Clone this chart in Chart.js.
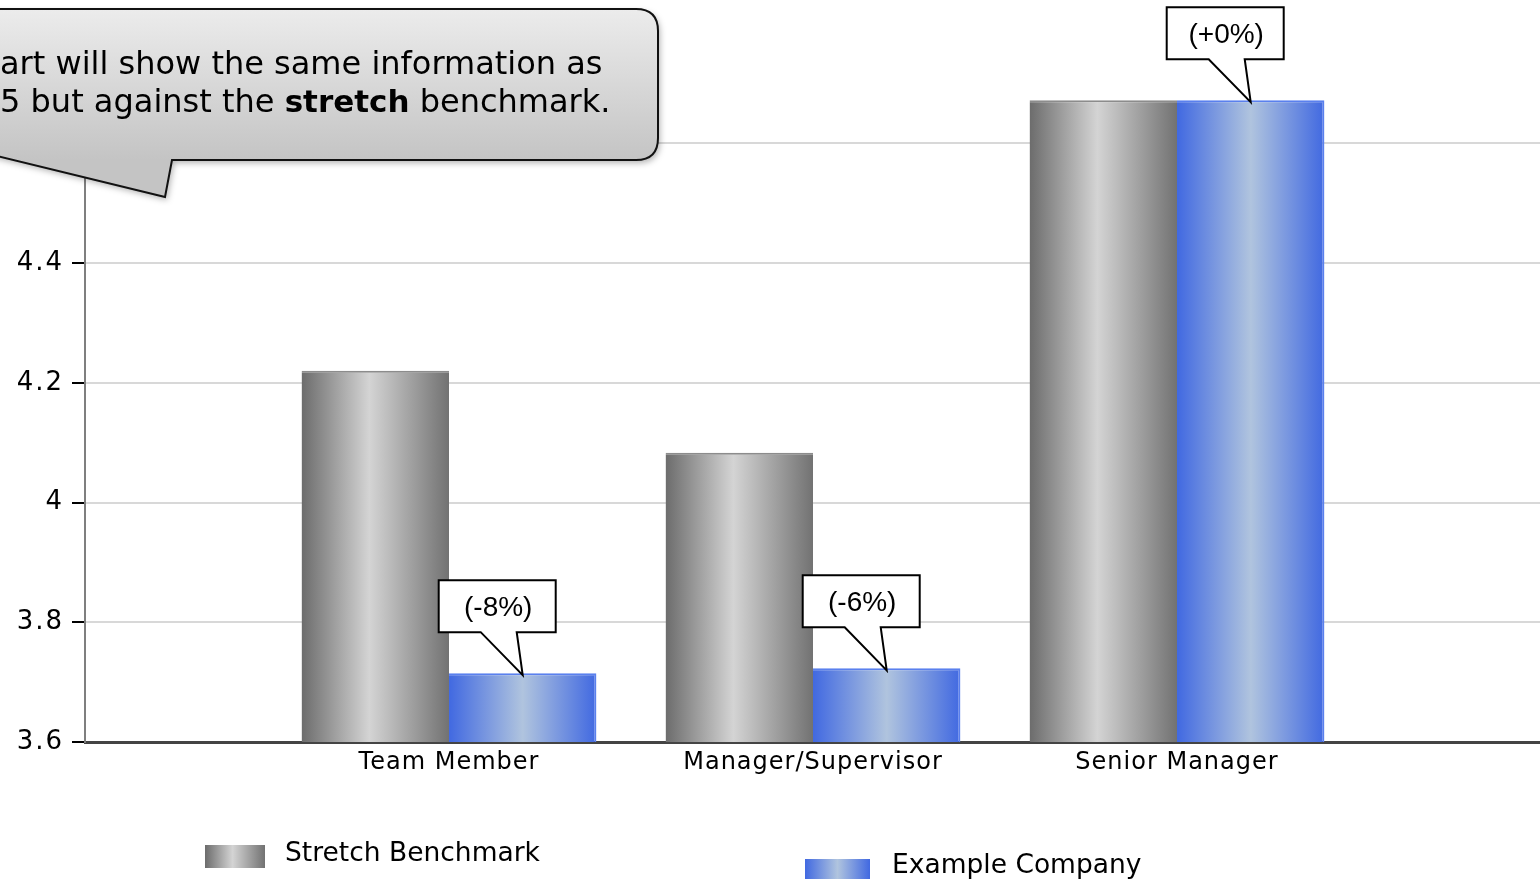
<!DOCTYPE html>
<html>
<head>
<meta charset="utf-8">
<script src="https://cdn.jsdelivr.net/npm/chart.js@4.4.0/dist/chart.umd.min.js"></script>
<style>
html, body { margin: 0; padding: 0; background: #fff; overflow: hidden; }
#wrap { position: relative; width: 1547px; height: 879px; }
</style>
</head>
<body>
<div id="wrap"><canvas id="chart"></canvas></div>
<script>
// data
const categories = ['Team Member', 'Manager/Supervisor', 'Senior Manager'];
const stretchValues = [4.22, 4.083, 4.672];
const companyValues = [3.715, 3.723, 4.672];
const diffLabels = ['(-8%)', '(-6%)', '(+0%)'];
const seriesNames = ['Stretch Benchmark', 'Example Company'];
const yTicks = [3.6, 3.8, 4, 4.2, 4.4, 4.6, 4.8];

// empty slot on each side so the groups sit one step in from the axis
const labels = ['', ...categories, ''];
const pad = arr => [null, ...arr, null];

const catPct = 0.81;
const grayStops = [[0, '#6c6c6c'], [0.46, '#d4d4d4'], [1, '#727272']];
const blueStops = [[0, '#4169e1'], [0.5, '#b0c4de'], [1, '#4169e1']];

function barGradient(ctx, stops) {
    const chart = ctx.chart;
    const xs = chart.scales.x;
    if (ctx.type !== 'data' || !xs) return stops[0][1];
    const step = xs.getPixelForValue(1) - xs.getPixelForValue(0);
    const full = step * catPct;
    const bw = full / 2;
    const left = xs.getPixelForValue(ctx.dataIndex) - full / 2 + ctx.datasetIndex * bw;
    if (!isFinite(left) || !isFinite(bw) || bw <= 0) return stops[0][1];
    const g = chart.ctx.createLinearGradient(left, 0, left + bw, 0);
    stops.forEach(s => g.addColorStop(s[0], s[1]));
    return g;
}

function swatch(ctx, x, y, w, h, stops) {
    const g = ctx.createLinearGradient(x, 0, x + w, 0);
    stops.forEach(s => g.addColorStop(s[0], s[1]));
    ctx.fillStyle = g;
    ctx.fillRect(x, y, w, h);
}

// the original tick labels are a bit spaced out
function spacedLabels(spacing) {
    return scale => {
        if (scale._spacedPatch) return;
        scale._spacedPatch = true;
        const orig = scale.drawLabels;
        scale.drawLabels = function (area) {
            const c = this.ctx;
            c.letterSpacing = spacing;
            orig.call(this, area);
            c.letterSpacing = '0px';
        };
    };
}

// percentage callouts over the company bars
const diffCallouts = {
    id: 'diffCallouts',
    afterDatasetsDraw(chart) {
        const ctx = chart.ctx;
        const meta = chart.getDatasetMeta(1);
        const texts = pad(diffLabels);
        ctx.save();
        meta.data.forEach((bar, i) => {
            if (!texts[i]) return;
            const cx = bar.x, top = bar.y;
            const bx = cx - 84, by = top - 93, bw = 117, bh = 52;
            ctx.beginPath();
            ctx.moveTo(bx, by);
            ctx.lineTo(bx + bw, by);
            ctx.lineTo(bx + bw, by + bh);
            ctx.lineTo(bx + 78, by + bh);
            ctx.lineTo(cx, top + 2);
            ctx.lineTo(bx + 42, by + bh);
            ctx.lineTo(bx, by + bh);
            ctx.closePath();
            ctx.fillStyle = '#fff';
            ctx.fill();
            ctx.lineWidth = 2;
            ctx.strokeStyle = '#000';
            ctx.stroke();
            ctx.fillStyle = '#000';
            ctx.font = '28px "Liberation Sans", Arial, sans-serif';
            ctx.textAlign = 'center';
            ctx.textBaseline = 'middle';
            ctx.fillText(texts[i], bx + bw / 2 + 1, by + bh / 2 + 2);
        });
        ctx.restore();
    }
};

// legend laid out like the original (staggered)
const customLegend = {
    id: 'customLegend',
    afterDraw(chart) {
        const ctx = chart.ctx;
        ctx.save();
        swatch(ctx, 205, 845, 60, 23, grayStops);
        swatch(ctx, 805, 859, 65, 23, blueStops);
        ctx.fillStyle = '#000';
        ctx.font = '26.5px "DejaVu Sans", Verdana, sans-serif';
        ctx.textAlign = 'left';
        ctx.textBaseline = 'middle';
        ctx.fillText(seriesNames[0], 285, 854);
        ctx.fillText(seriesNames[1], 892, 866);
        ctx.restore();
    }
};

// big grey speech bubble, top left
const noteBubble = {
    id: 'noteBubble',
    afterDraw(chart) {
        const ctx = chart.ctx;
        const r = 22, right = 658, top = 9, bottom = 160, left = -40;
        ctx.save();
        ctx.beginPath();
        ctx.moveTo(left, top);
        ctx.lineTo(right - r, top);
        ctx.quadraticCurveTo(right, top, right, top + r);
        ctx.lineTo(right, bottom - r);
        ctx.quadraticCurveTo(right, bottom, right - r, bottom);
        ctx.lineTo(172, bottom);
        ctx.lineTo(165, 197);
        ctx.lineTo(left, 147);
        ctx.closePath();
        const g = ctx.createLinearGradient(0, top, 0, bottom);
        g.addColorStop(0, '#ececec');
        g.addColorStop(1, '#c4c4c4');
        ctx.shadowColor = 'rgba(0,0,0,0.3)';
        ctx.shadowBlur = 6;
        ctx.shadowOffsetX = 2;
        ctx.shadowOffsetY = 3;
        ctx.fillStyle = g;
        ctx.fill();
        ctx.shadowColor = 'transparent';
        ctx.lineWidth = 2;
        ctx.strokeStyle = '#111';
        ctx.stroke();

        ctx.fillStyle = '#000';
        ctx.textBaseline = 'middle';
        ctx.textAlign = 'left';
        const reg = '32px "DejaVu Sans", Verdana, sans-serif';
        const bold = 'bold 31px "DejaVu Sans", Verdana, sans-serif';
        ctx.font = reg;
        ctx.fillText('art will show the same information as', 0, 66);
        let x = 0;
        const parts = [['5 but against the ', reg], ['stretch', bold], [' benchmark.', reg]];
        parts.forEach(p => {
            ctx.font = p[1];
            ctx.fillText(p[0], x, 104);
            x += ctx.measureText(p[0]).width;
        });
        ctx.restore();
    }
};

new Chart(document.getElementById('chart'), {
    type: 'bar',
    data: {
        labels: labels,
        datasets: [
            {
                label: seriesNames[0],
                data: pad(stretchValues),
                backgroundColor: c => barGradient(c, grayStops),
                borderColor: '#8c8c8c',
                borderWidth: { top: 2, left: 0, right: 0, bottom: 0 },
                borderSkipped: 'bottom',
                categoryPercentage: catPct,
                barPercentage: 1
            },
            {
                label: seriesNames[1],
                data: pad(companyValues),
                backgroundColor: c => barGradient(c, blueStops),
                borderColor: '#5a80ee',
                borderWidth: { top: 2, left: 0, right: 2, bottom: 0 },
                borderSkipped: 'bottom',
                categoryPercentage: catPct,
                barPercentage: 1
            }
        ]
    },
    options: {
        responsive: true,
        maintainAspectRatio: false,
        animation: false,
        events: [],
        layout: { padding: { top: 18, left: 0, right: 0, bottom: 0 } },
        plugins: {
            legend: { display: false },
            tooltip: { enabled: false }
        },
        scales: {
            x: {
                offset: false,
                grid: { display: false, drawTicks: false },
                border: { display: true, color: '#444', width: 3 },
                ticks: {
                    color: '#000',
                    padding: 6,
                    maxRotation: 0,
                    autoSkip: false,
                    font: { family: '"DejaVu Sans", Verdana, sans-serif', size: 24 }
                },
                afterFit: s => { s.height = 137; },
                afterUpdate: spacedLabels('1px')
            },
            y: {
                min: 3.6,
                max: 4.8,
                afterBuildTicks: s => { s.ticks = yTicks.map(v => ({ value: v })); },
                grid: {
                    color: c => (c.tick && (c.tick.value <= 3.6 || c.tick.value >= 4.8)) ? 'rgba(0,0,0,0)' : '#d8d8d8',
                    lineWidth: 2,
                    tickLength: 13,
                    tickColor: '#000',
                    tickWidth: 2
                },
                border: { display: true, color: '#7f7f7f', width: 2 },
                ticks: {
                    color: '#000',
                    padding: 8,
                    font: { family: '"DejaVu Sans", Verdana, sans-serif', size: 26 },
                    callback: v => String(Math.round(v * 10) / 10)
                },
                afterFit: s => { s.width = 85; },
                afterUpdate: spacedLabels('2px')
            }
        }
    },
    plugins: [diffCallouts, customLegend, noteBubble]
});
</script>
</body>
</html>
